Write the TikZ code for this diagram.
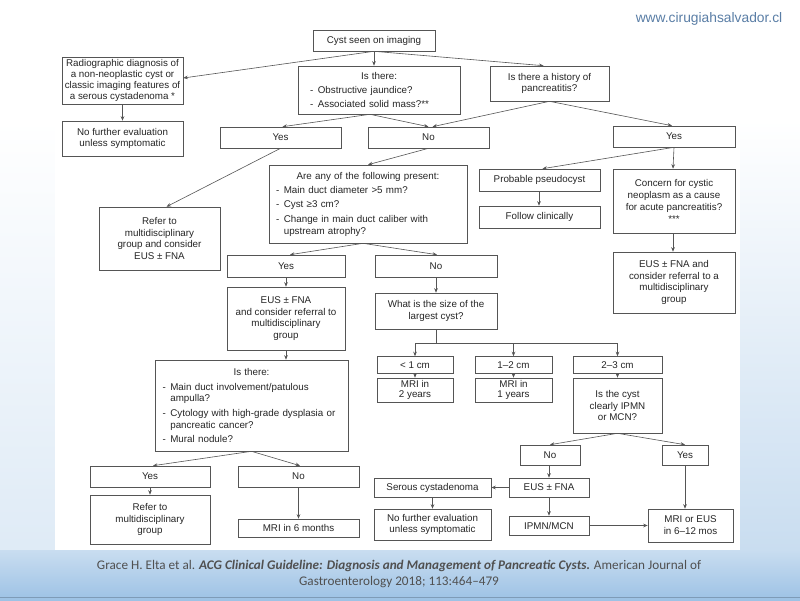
\documentclass[tikz,border=0pt]{standalone}
\usepackage{fontspec}
\setmainfont{Liberation Sans}
\newfontfamily\footfont{Carlito}
\usetikzlibrary{arrows.meta,calc}
\definecolor{ln}{HTML}{555555}
\definecolor{tx}{HTML}{262626}
\definecolor{webblue}{HTML}{5A7EA6}
\definecolor{foot}{HTML}{505050}
\definecolor{bandtop}{HTML}{C9DDF0}
\definecolor{bandbot}{HTML}{9DC2E5}
\newcommand\bitem[1]{\par\vspace{2.6pt}\hangindent=0.8em\hangafter=1\noindent\makebox[0.8em][l]{-}#1}
\tikzset{
  box/.style={draw=ln, line width=0.6pt, rectangle, inner sep=0pt, align=center, text=tx,
    font=\fontsize{9.8}{11.8}\selectfont},
  arr/.style={draw=ln, line width=0.6pt, -{Stealth[length=4.5pt,width=3.6pt]}},
  ln/.style={draw=ln, line width=0.6pt},
}
\begin{document}
\begin{tikzpicture}[x=1pt,y=-1pt]
\useasboundingbox (0,0) rectangle (800,600);
% background
\fill[white] (0,0) rectangle (800,600);
\shade[top color=white, bottom color=bandtop] (740,120) rectangle (800,550);
\shade[top color=white, bottom color=bandtop!60] (0,120) rectangle (55,550);
\shade[top color=bandtop, bottom color=bandbot] (0,550) rectangle (800,600);
\fill[white] (55,0) rectangle (740,550);
\draw[line width=1pt, color=bandbot!80!black] (0,597.5) -- (800,597.5);

% website
\node[font=\fontsize{13.8}{15}\selectfont, text=webblue] (web) at (709,19) {www.cirugiahsalvador.cl};

% nodes
\node[box, minimum width=122pt, minimum height=21pt] (start) at (374,40.5) {Cyst seen on imaging};
\node[box, minimum width=121pt, minimum height=47pt, font=\fontsize{9.8}{10.7}\selectfont] (radio) at (122.5,80.5)
  {Radiographic diagnosis of\\a non-neoplastic cyst or\\classic imaging features of\\a serous cystadenoma *};
\node[box, minimum width=121pt, minimum height=35pt] (nofurther1) at (122.5,138.5) {No further evaluation\\unless symptomatic};
\node[box, minimum width=162pt, minimum height=48pt, text width=138pt, align=left] (isthere1) at (379,90)
  {{\centering Is there:\par}\bitem{Obstructive jaundice?}\bitem{Associated solid mass?**}\par};
\node[box, minimum width=119pt, minimum height=35pt] (history) at (549.5,83.5) {Is there a history of\\pancreatitis?};
\node[box, minimum width=121pt, minimum height=21pt] (yes1) at (280.5,137.5) {Yes};
\node[box, minimum width=121pt, minimum height=21pt] (no1) at (428.5,137.5) {No};
\node[box, minimum width=122pt, minimum height=21pt] (yes1r) at (674,136.5) {Yes};
\node[box, minimum width=121pt, minimum height=63pt] (refer1) at (159.5,238.5) {Refer to\\multidisciplinary\\group and consider\\EUS ± FNA};
\node[box, minimum width=198pt, minimum height=78pt, text width=184pt, align=left] (areany) at (368,204)
  {{\centering Are any of the following present:\par}\bitem{Main duct diameter >5 mm?}\bitem{Cyst ≥3 cm?}\bitem{Change in main duct caliber with\newline upstream atrophy?}\par};
\node[box, minimum width=121pt, minimum height=22pt] (pseudo) at (539.5,180) {Probable pseudocyst};
\node[box, minimum width=121pt, minimum height=22pt] (follow) at (539.5,217) {Follow clinically};
\node[box, minimum width=122pt, minimum height=64pt] (concern) at (674,201) {Concern for cystic\\neoplasm as a cause\\for acute pancreatitis?\\***};
\node[box, minimum width=122pt, minimum height=61pt] (eusref) at (674,282.5) {EUS ± FNA and\\consider referral to a\\multidisciplinary\\group};
\node[box, minimum width=118pt, minimum height=22pt] (yes2) at (286,266) {Yes};
\node[box, minimum width=122pt, minimum height=22pt] (no2) at (436,266) {No};
\node[box, minimum width=118pt, minimum height=63pt] (eus2) at (286,318.5) {EUS ± FNA\\and consider referral to\\multidisciplinary\\group};
\node[box, minimum width=122pt, minimum height=36pt] (size) at (436,311) {What is the size of the\\largest cyst?};
\node[box, minimum width=193pt, minimum height=91pt, text width=178pt, align=left] (isthere2) at (251.5,405.5)
  {{\centering Is there:\par}\bitem{Main duct involvement/patulous\newline ampulla?}\bitem{Cytology with high-grade dysplasia or\newline pancreatic cancer?}\bitem{Mural nodule?}\par};
\node[box, minimum width=76pt, minimum height=17pt] (lt1) at (415,365) {< 1 cm};
\node[box, minimum width=77pt, minimum height=17pt] (cm12) at (513.5,365) {1–2 cm};
\node[box, minimum width=89pt, minimum height=17pt] (cm23) at (617.5,365) {2–3 cm};
\node[box, minimum width=76pt, minimum height=24pt, font=\fontsize{9.8}{10.6}\selectfont] (mri2) at (415,390) {MRI in\\2 years};
\node[box, minimum width=77pt, minimum height=24pt, font=\fontsize{9.8}{10.6}\selectfont] (mri1) at (513.5,390) {MRI in\\1 years};
\node[box, minimum width=89pt, minimum height=55pt, font=\fontsize{9.8}{11.2}\selectfont] (iscyst) at (617.5,405.5) {Is the cyst\\clearly IPMN\\or MCN?};
\node[box, minimum width=120pt, minimum height=21pt] (yes3) at (150,476.5) {Yes};
\node[box, minimum width=120pt, minimum height=49pt] (refer3) at (150,519.5) {Refer to\\multidisciplinary\\group};
\node[box, minimum width=121pt, minimum height=21pt] (no3) at (298.5,476.5) {No};
\node[box, minimum width=121pt, minimum height=18pt] (mri6) at (298.5,528) {MRI in 6 months};
\node[box, minimum width=60pt, minimum height=20pt] (no4) at (550,455) {No};
\node[box, minimum width=46pt, minimum height=20pt] (yes4) at (685,455) {Yes};
\node[box, minimum width=80pt, minimum height=19pt] (eus4) at (549,487.5) {EUS ± FNA};
\node[box, minimum width=117pt, minimum height=19pt] (serous) at (432.5,487.5) {Serous cystadenoma};
\node[box, minimum width=117pt, minimum height=31pt] (nofurther4) at (432.5,524.5) {No further evaluation\\unless symptomatic};
\node[box, minimum width=80pt, minimum height=19pt] (ipmn) at (549,525.5) {IPMN/MCN};
\node[box, minimum width=85pt, minimum height=33pt] (mrieus) at (690.5,525.5) {MRI or EUS\\in 6–12 mos};

% connectors
\draw[arr] (start.south) -- ([yshift=2.5pt]radio.east);
\draw[arr] (start.south) -- (start.south |- isthere1.north);
\draw[arr] (start.south) -- ([xshift=-6pt]history.north);
\draw[arr] (radio.south) -- (nofurther1.north);
\draw[arr] ([xshift=-9pt]isthere1.south) -- ([xshift=2pt]yes1.north);
\draw[arr] ([xshift=-9pt]isthere1.south) -- (no1.north);
\draw[arr] (history.south) -- ([xshift=4pt]no1.north);
\draw[arr] (history.south) -- ([xshift=-2pt]yes1r.north);
\draw[arr] (yes1.south) -- ([xshift=7pt]refer1.north);
\draw[arr] (no1.south) -- (areany.north);
\draw[arr] (yes1r.south) -- ([xshift=3pt]pseudo.north);
\draw[arr] (yes1r.south) -- ([xshift=-1pt]concern.north);
\draw[arr] ([xshift=-0.5pt]pseudo.south) -- ([xshift=-0.5pt]follow.north);
\draw[arr] ([xshift=-1pt]concern.south) -- ([xshift=-1pt]eusref.north);
\draw[arr] ([xshift=-5pt]areany.south) -- ([xshift=4pt]yes2.north);
\draw[arr] ([xshift=-5pt]areany.south) -- ([xshift=1pt]no2.north);
\draw[arr] (yes2.south) -- (eus2.north);
\draw[arr] (eus2.south) -- (eus2.south |- isthere2.north);
\draw[arr] (no2.south) -- (size.north);
\draw[ln] (size.south) -- ++(0,14) coordinate (sj);
\draw[ln] (lt1.north |- sj) -- (cm23.north |- sj);
\draw[arr] (lt1.north |- sj) -- (lt1.north);
\draw[arr] (cm12.north |- sj) -- (cm12.north);
\draw[arr] (cm23.north |- sj) -- (cm23.north);
\draw[arr] (lt1.south) -- (mri2.north);
\draw[arr] (cm12.south) -- (mri1.north);
\draw[arr] (cm23.south) -- (iscyst.north);
\draw[arr] (isthere2.south) -- ([xshift=3pt]yes3.north);
\draw[arr] (isthere2.south) -- ([xshift=1.5pt]no3.north);
\draw[arr] (yes3.south) -- (refer3.north);
\draw[arr] (no3.south) -- (mri6.north);
\draw[arr] (iscyst.south) -- (no4.north);
\draw[arr] (iscyst.south) -- (yes4.north);
\draw[arr] ([xshift=-1pt]no4.south) -- (eus4.north);
\draw[arr] (eus4.west) -- (serous.east);
\draw[arr] (serous.south) -- (nofurther4.north);
\draw[arr] (eus4.south) -- (ipmn.north);
\draw[arr] (ipmn.east) -- (mrieus.west);
\draw[arr] (yes4.south) -- (yes4.south |- mrieus.north);

% citation
\node[font=\footfont\fontsize{13.2}{16.5}\selectfont, text=foot, align=center] (cite) at (399,574)
  {Grace H. Elta et al. \textbf{\textit{ACG Clinical Guideline: Diagnosis and Management of Pancreatic Cysts.}} American Journal of\\Gastroenterology 2018; 113:464–479};
\end{tikzpicture}
\end{document}
